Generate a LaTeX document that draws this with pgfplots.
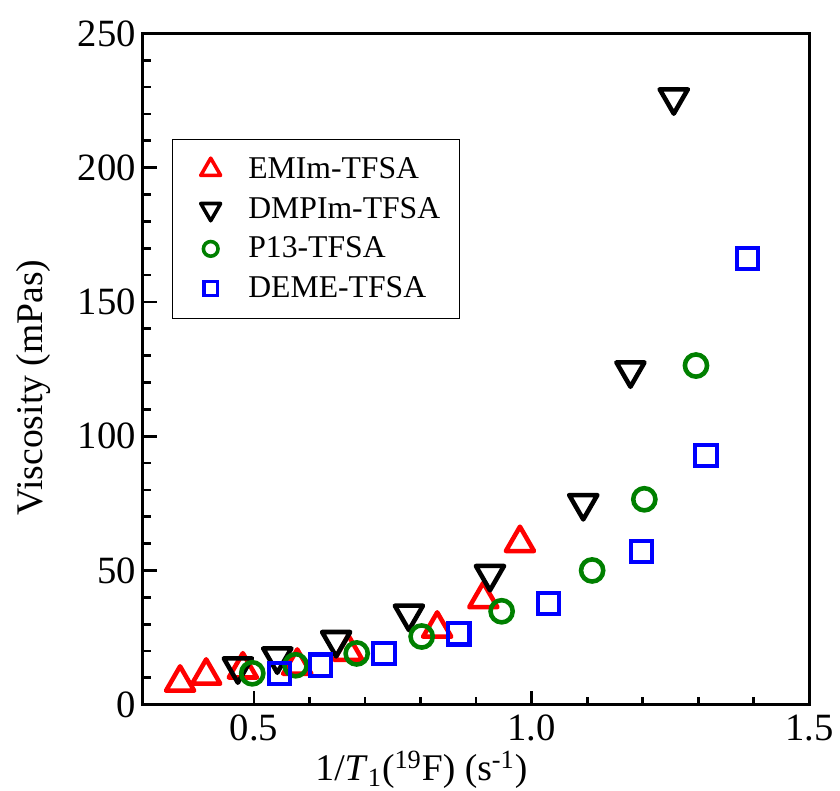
\documentclass[border=0pt]{standalone}
\usepackage{fontspec}
\setmainfont{Liberation Serif}
\usepackage{pgfplots}
\pgfplotsset{compat=1.18}
\definecolor{oRed}{HTML}{FF0000}
\definecolor{oGreen}{HTML}{008000}
\definecolor{oBlue}{HTML}{0000FF}

\begin{document}
\begin{tikzpicture}
\begin{axis}[
  scale only axis,
  width=336.5pt, height=339pt,
  xmin=0.3, xmax=1.5, ymin=0, ymax=250,
  xtick={0.5,1.0,1.5}, minor x tick num=4,
  ytick={0,50,...,250}, minor y tick num=4,
  tick align=inside, tick pos=left,
  major tick length=7pt, minor tick length=4pt,
  every tick/.style={black, line width=1.4pt},
  axis line style={line width=1.4pt},
  /pgf/number format/assume math mode=true,
  tick label style={font=\fontsize{19.5}{22}\selectfont},
  x tick label style={/pgf/number format/.cd, fixed, fixed zerofill, precision=1, /tikz/.cd, yshift=-3pt, inner ysep=2pt},
  label style={font=\fontsize{19}{23}\selectfont},
  xlabel={1/\textit{T}\textsubscript{1}(\textsuperscript{19}F) (s\textsuperscript{-1})},
  ylabel={Viscosity (mPas)},
  xlabel style={at={(axis description cs:0.418,-0.1135)}, anchor=base, inner sep=1pt},
  ylabel style={at={(axis description cs:-0.1513,0.4723)}, anchor=base},
  legend image code/.code={
    \path[draw=none, fill=none] (-10pt,-10pt) rectangle (19pt,10pt);
    \draw[#1, /tikz/only marks] plot coordinates {(0pt,0pt)};
  },
  legend cell align=left,
  legend style={at={(0.0431,0.842)}, anchor=north west,
    draw=black, line width=0.5pt,
    font=\fontsize{16}{19}\selectfont,
    inner xsep=9.5pt, inner ysep=5pt,
    nodes={inner sep=0pt, font=\fontsize{16}{19}\selectfont}, row sep=0pt},
]
% EMIm-TFSA
\addplot[only marks, mark=triangle, oRed, mark size=8.2pt, line width=2.3pt,
  line join=round, mark options={yshift=-2.1pt}, forget plot] coordinates {
  (0.367,9.8) (0.414,12.4) (0.480,14.7) (0.578,16.1)
  (0.670,21.3) (0.830,29.9) (0.913,40.9) (0.979,61.8)
};
% DMPIm-TFSA
\addplot[only marks, mark=triangle, black, mark size=8.2pt, line width=2.3pt,
  line join=round, mark options={yshift=2.1pt, rotate=180}, forget plot] coordinates {
  (0.471,12.7) (0.542,16.4) (0.648,22.5) (0.779,32.3)
  (0.925,47.1) (1.093,73.5) (1.178,122.9) (1.256,224.6)
};
% P13-TFSA
\addplot[only marks, mark=o, oGreen, mark size=5.6pt, line width=2.3pt, forget plot] coordinates {
  (0.497,11.7) (0.575,14.7) (0.685,19.1) (0.802,25.4)
  (0.946,34.8) (1.109,50.0) (1.203,76.5) (1.296,126.3)
};
% DEME-TFSA
\addplot[only marks, mark=square, oBlue, mark size=5.4pt, line width=2.1pt, forget plot] coordinates {
  (0.546,11.7) (0.620,14.7) (0.734,19.1) (0.869,26.4)
  (1.030,37.7) (1.198,57.1) (1.314,92.8) (1.389,166.2)
};

\addlegendimage{mark=triangle, oRed, mark size=5.8pt, line width=1.8pt, line join=round}
\addlegendentry{EMIm-TFSA}
\addlegendimage{mark=triangle, black, mark size=5.8pt, line width=1.8pt, line join=round, mark options={rotate=180}}
\addlegendentry{DMPIm-TFSA}
\addlegendimage{mark=o, oGreen, mark size=3.7pt, line width=1.8pt}
\addlegendentry{P13-TFSA}
\addlegendimage{mark=square, oBlue, mark size=3.5pt, line width=1.8pt}
\addlegendentry{DEME-TFSA}
\end{axis}
\path (-72.15pt,-43.15pt) rectangle (347.85pt,355.85pt);
\end{tikzpicture}
\end{document}
